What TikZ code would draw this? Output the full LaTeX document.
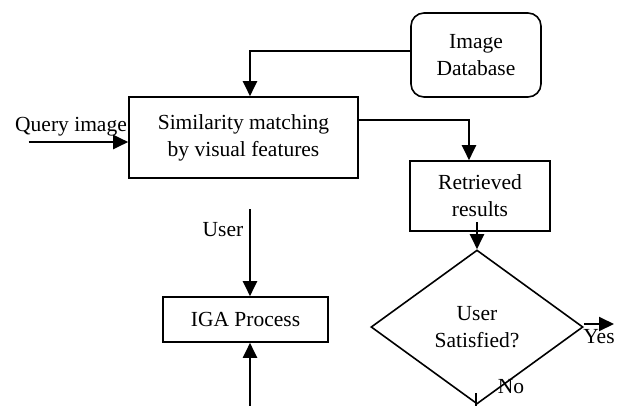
\documentclass[tikz,border=0pt]{standalone}
\usepackage{fontspec}
\setmainfont{Liberation Serif}
\usetikzlibrary{shapes.geometric,arrows.meta}
\begin{document}
\begin{tikzpicture}[x=1pt,y=-1pt,
  every node/.style={font=\fontsize{21.5}{27}\selectfont, align=center, inner sep=0pt},
  boxnode/.style={draw, line width=1.6pt, rectangle},
  dbnode/.style={draw, line width=1.6pt, rectangle, rounded corners=13pt},
  decision/.style={draw, line width=1.6pt, diamond, aspect=1.377},
  flow/.style={line width=2pt, -{Triangle[length=15pt,width=14pt]}},
  plain/.style={line width=2pt},
  lbl/.style={}]
\useasboundingbox (0,0) rectangle (622,405);
\clip (0,0) rectangle (622,405);
\node[dbnode, minimum width=130pt, minimum height=84pt] (db) at (476,55) {Image\\Database};
\node[boxnode, minimum width=229pt, minimum height=81pt] (sim) at (243.5,137.5) {Similarity matching\\by visual features};
\node[boxnode, minimum width=140pt, minimum height=70pt] (ret) at (480,196) {Retrieved\\results};
\node[boxnode, minimum width=165pt, minimum height=45pt] (iga) at (245.5,319.5) {IGA Process};
\node[decision, minimum width=212pt, minimum height=154pt] (dec) at (477,327) {User\\Satisfied?};
\node[lbl] (qtext) at (71,127) {Query image};
\node[lbl] (utext) at (223,230) {User};
\node[lbl] (ytext) at (599,337) {Yes};
\node[lbl] (ntext) at (511,387) {No};
\coordinate (qstart) at (28.6,142);
\coordinate (ustart) at (250,209);
\coordinate (bstart) at (250,410);
\coordinate (rstart) at (477,222);
\coordinate (yend) at (614,324);
\coordinate (nstart) at (476,393);
\coordinate (nend) at (476,410);
\draw[flow] (db.west |- 0,51) -- (250,51) -- (sim.north -| 250,0);
\draw[flow] (qstart) -- (sim.west |- qstart);
\draw[flow] (sim.east |- 0,120) -- (469,120) -- (ret.north -| 469,0);
\draw[flow] (rstart) -- (dec.north);
\draw[flow] (dec.east |- yend) -- (yend);
\draw[flow] (ustart) -- (iga.north -| ustart);
\draw[flow] (bstart) -- (iga.south -| bstart);
\draw[plain] (nstart) -- (nend);
\end{tikzpicture}
\end{document}
